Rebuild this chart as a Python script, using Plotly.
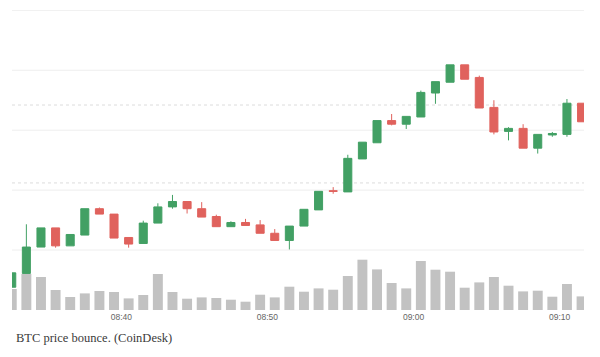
import pandas as pd
import plotly.graph_objects as go

# Candle times (1-minute candles, centred on the half minute)
times = pd.date_range("2020-05-04 08:32:30", periods=40, freq="1min")

opens = [9038, 9061, 9105, 9137, 9107, 9125, 9169, 9160, 9121, 9111,
         9145, 9172, 9181, 9169, 9156, 9139, 9146, 9142, 9128, 9116,
         9140, 9167, 9199, 9197, 9252, 9279, 9316, 9310, 9322, 9362,
         9380, 9409, 9388, 9338, 9298, 9303, 9270, 9292, 9293, 9345]
highs = [9062, 9143, 9137, 9137, 9126, 9169, 9171, 9160, 9121, 9149,
         9178, 9192, 9181, 9180, 9159, 9148, 9152, 9150, 9135, 9140,
         9168, 9198, 9205, 9259, 9280, 9316, 9327, 9323, 9366, 9381,
         9409, 9409, 9391, 9350, 9305, 9310, 9293, 9297, 9352, 9345]
lows = [9038, 9061, 9105, 9104, 9107, 9125, 9160, 9120, 9104, 9111,
        9145, 9169, 9161, 9155, 9139, 9139, 9141, 9128, 9116, 9101,
        9140, 9167, 9194, 9197, 9252, 9279, 9308, 9302, 9322, 9344,
        9380, 9385, 9337, 9293, 9283, 9270, 9261, 9289, 9289, 9314]
closes = [9062, 9105, 9137, 9107, 9126, 9169, 9160, 9120, 9110, 9145,
          9172, 9181, 9169, 9155, 9139, 9146, 9141, 9128, 9116, 9140,
          9168, 9198, 9198, 9253, 9280, 9316, 9310, 9323, 9363, 9381,
          9409, 9385, 9337, 9297, 9303, 9270, 9293, 9294.5, 9345, 9314]
volumes = [210, 360, 330, 200, 130, 166, 190, 180, 116, 150,
           360, 180, 113, 126, 120, 103, 83, 153, 126, 233,
           183, 216, 203, 340, 503, 406, 270, 216, 490, 403,
           383, 223, 276, 330, 243, 186, 193, 133, 260, 136]

grid_levels = [9100, 9200, 9300, 9400, 9500]
ref_levels = [9342, 9212]
tick_labels = ["08:40", "08:50", "09:00", "09:10"]
tick_vals = pd.to_datetime(["2020-05-04 08:40", "2020-05-04 08:50",
                            "2020-05-04 09:00", "2020-05-04 09:10"])
caption = "BTC price bounce. (CoinDesk)"

GREEN = "#42a064"
RED = "#e0625d"
GRAY = "#c2c2c2"

fig = go.Figure()
fig.add_trace(go.Bar(x=times, y=volumes, yaxis="y2", marker_color=GRAY,
                     marker_line_width=0, showlegend=False, hoverinfo="skip"))
fig.add_trace(go.Candlestick(
    x=times, open=opens, high=highs, low=lows, close=closes,
    increasing=dict(line=dict(color=GREEN, width=1), fillcolor=GREEN),
    decreasing=dict(line=dict(color=RED, width=1), fillcolor=RED),
    whiskerwidth=0, showlegend=False, hoverinfo="skip"))

for lv in grid_levels:
    fig.add_shape(type="line", xref="paper", x0=0, x1=1, yref="y", y0=lv, y1=lv,
                  line=dict(color="#eeeeee", width=1), layer="below")
for lv in ref_levels:
    fig.add_shape(type="line", xref="paper", x0=0, x1=1, yref="y", y0=lv, y1=lv,
                  line=dict(color="#dcdcdc", width=1, dash="dot"), layer="below")

fig.add_annotation(text=caption, xref="paper", yref="paper", x=0.003, y=-0.094,
                   xanchor="left", yanchor="middle", showarrow=False,
                   font=dict(family="Liberation Serif", size=12.5, color="#3a3a3a"))

fig.update_layout(
    width=600, height=357,
    margin=dict(l=12, r=16, t=10, b=47),
    paper_bgcolor="white", plot_bgcolor="white",
    bargap=0.32, boxgap=0.45, boxgroupgap=0,
    xaxis=dict(range=[pd.Timestamp("2020-05-04 08:32:31"), pd.Timestamp("2020-05-04 09:11:40")],
               tickvals=tick_vals, ticktext=tick_labels, showgrid=False,
               zeroline=False, showline=False, ticks="",
               tickfont=dict(family="Liberation Sans", size=8.5, color="#666666"),
               rangeslider=dict(visible=False)),
    yaxis=dict(range=[9000, 9500.5], showgrid=False, showticklabels=False,
               zeroline=False, showline=False),
    yaxis2=dict(range=[0, 3000], overlaying="y", showgrid=False,
                showticklabels=False, zeroline=False, showline=False),
)

fig.write_html("out.html")
